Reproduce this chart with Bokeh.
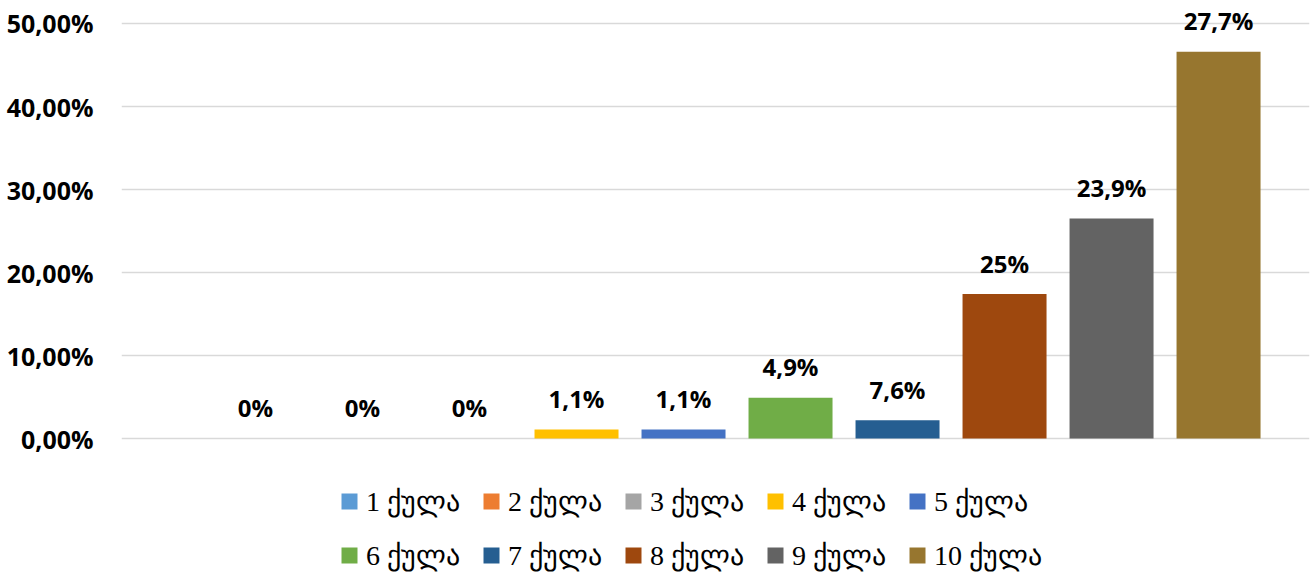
from bokeh.plotting import figure
from bokeh.models import (ColumnDataSource, Range1d, FixedTicker, CustomJSTickFormatter,
                          Legend, LegendItem)
from bokeh.core.properties import value
from bokeh.embed import file_html
from bokeh.resources import INLINE

categories = ["1 ქულა", "2 ქულა", "3 ქულა", "4 ქულა", "5 ქულა",
              "6 ქულა", "7 ქულა", "8 ქულა", "9 ქულა", "10 ქულა"]
bar_values = [0.0, 0.0, 0.0, 1.1, 1.1, 4.9, 2.2, 17.4, 26.5, 46.6]
bar_labels = ["0%", "0%", "0%", "1,1%", "1,1%", "4,9%", "7,6%", "25%", "23,9%", "27,7%"]
colors = ["#5B9BD5", "#ED7D31", "#A5A5A5", "#FFC000", "#4472C4",
          "#70AD47", "#255E91", "#9E480E", "#636363", "#97762F"]
y_ticks = [0, 10, 20, 30, 40, 50]

p = figure(width=1311, height=575, output_backend="svg", toolbar_location=None,
           x_range=Range1d(-1.2523, 9.850), y_range=Range1d(-16.5, 52.77),
           min_border_left=121, min_border_right=2, min_border_top=0,
           min_border_bottom=0)
p.outline_line_color = None
p.xaxis.visible = False
p.xgrid.visible = False
p.ygrid.grid_line_color = "#D9D9D9"
p.ygrid.grid_line_width = 1.5
p.yaxis.ticker = FixedTicker(ticks=y_ticks)
p.yaxis.formatter = CustomJSTickFormatter(
    code="return tick.toFixed(2).replace('.', ',') + '%';")
p.yaxis.axis_line_color = None
p.yaxis.major_tick_line_color = None
p.yaxis.minor_tick_line_color = None
p.yaxis.major_label_standoff = 22
p.yaxis.major_label_text_font = "Open Sans"
p.yaxis.major_label_text_font_style = "bold"
p.yaxis.major_label_text_font_size = "25px"
p.yaxis.major_label_text_color = "#000000"

items = []
for i, (cat, v, c) in enumerate(zip(categories, bar_values, colors)):
    src = ColumnDataSource(dict(x=[i], top=[v]))
    r = p.vbar(x="x", top="top", bottom=0, width=0.785, source=src,
               fill_color=c, line_color=None)
    items.append(LegendItem(label=cat, renderers=[r]))

lab_src = ColumnDataSource(dict(x=list(range(len(categories))), y=bar_values, t=bar_labels))
p.text(x="x", y="y", text="t", source=lab_src, y_offset=-31,
       text_align="center", text_baseline="middle",
       text_font=value("Open Sans"), text_font_style="bold",
       text_font_size="24px", text_color="#000000")

legend = Legend(items=items, orientation="horizontal", nrows=2, location=(218, -4.5),
                glyph_width=20, glyph_height=20, label_standoff=7,
                label_width=110, label_height=49, spacing=5, padding=0, margin=0,
                label_text_font="Liberation Serif",
                label_text_font_size="28px", label_text_color="#000000",
                border_line_alpha=0, background_fill_alpha=0)
p.add_layout(legend, "center")

open("out.html", "w").write(file_html(p, INLINE))
